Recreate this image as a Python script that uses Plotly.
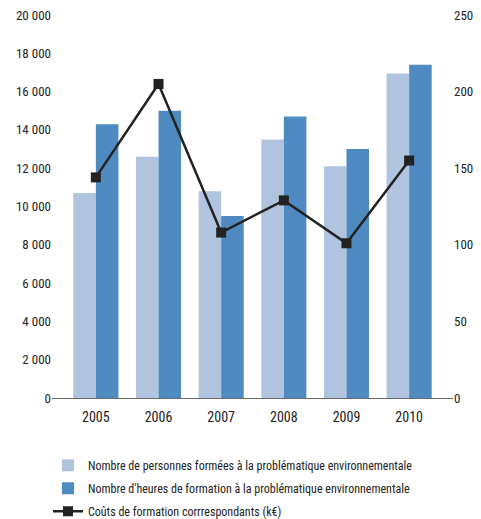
import plotly.graph_objects as go

years = ["2005", "2006", "2007", "2008", "2009", "2010"]
personnes = [10700, 12600, 10800, 13500, 12100, 16950]
heures = [14300, 15000, 9500, 14700, 13000, 17400]
couts = [144, 205, 108, 129, 101, 155]

names = [
    "Nombre de personnes formées à la problématique environnementale",
    "Nombre d'heures de formation à la problématique environnementale",
    "Coûts de formation corrrespondants (k€)",
]

FONT = "Roboto Condensed, Liberation Sans Narrow, Roboto, sans-serif"

def f(size):
    return dict(family=FONT, size=size, color="#222222")

fig = go.Figure()
fig.add_trace(go.Bar(x=years, y=personnes, name=names[0], marker_color="#b0c4e0",
                     marker_line_width=0, legendgroup="a"))
fig.add_trace(go.Bar(x=years, y=heures, name=names[1], marker_color="#4f8bc0",
                     marker_line_width=0, legendgroup="b"))
fig.add_trace(go.Scatter(x=years, y=couts, name=names[2], yaxis="y2",
                         mode="lines+markers", legendgroup="c",
                         line=dict(color="#222222", width=2.5),
                         marker=dict(symbol="square", size=10, color="#222222")))

# page has an 8px body margin: figure occupies (8,8)-(481,519)
fig.update_layout(
    width=473, height=511,
    margin=dict(l=44, r=28, t=7, b=121, autoexpand=False),
    paper_bgcolor="white", plot_bgcolor="white",
    font=f(13),
    separators=", ",
    barmode="group", bargap=0.28, bargroupgap=0,
    showlegend=True,
    legend=dict(x=-0.01, y=-0.138, xanchor="left", yanchor="top",
                font=f(12), tracegroupgap=4,
                itemwidth=30, traceorder="grouped"),
    xaxis=dict(type="category", range=[-0.7, 5.7], showline=True,
               linecolor="#666666", linewidth=1, ticks="", showgrid=False,
               tickfont=f(14), tickangle=0, ticklabelstandoff=6),
    yaxis=dict(range=[0, 20000], dtick=2000, tickformat=",d", showgrid=False,
               zeroline=False, showline=False, ticks="", tickfont=f(13),
               ticklabeloverflow="allow"),
    yaxis2=dict(range=[0, 250], dtick=50, overlaying="y", side="right",
                showgrid=False, zeroline=False, showline=False, ticks="",
                tickfont=f(13), ticklabeloverflow="allow"),
)

fig.write_html("out.html")
